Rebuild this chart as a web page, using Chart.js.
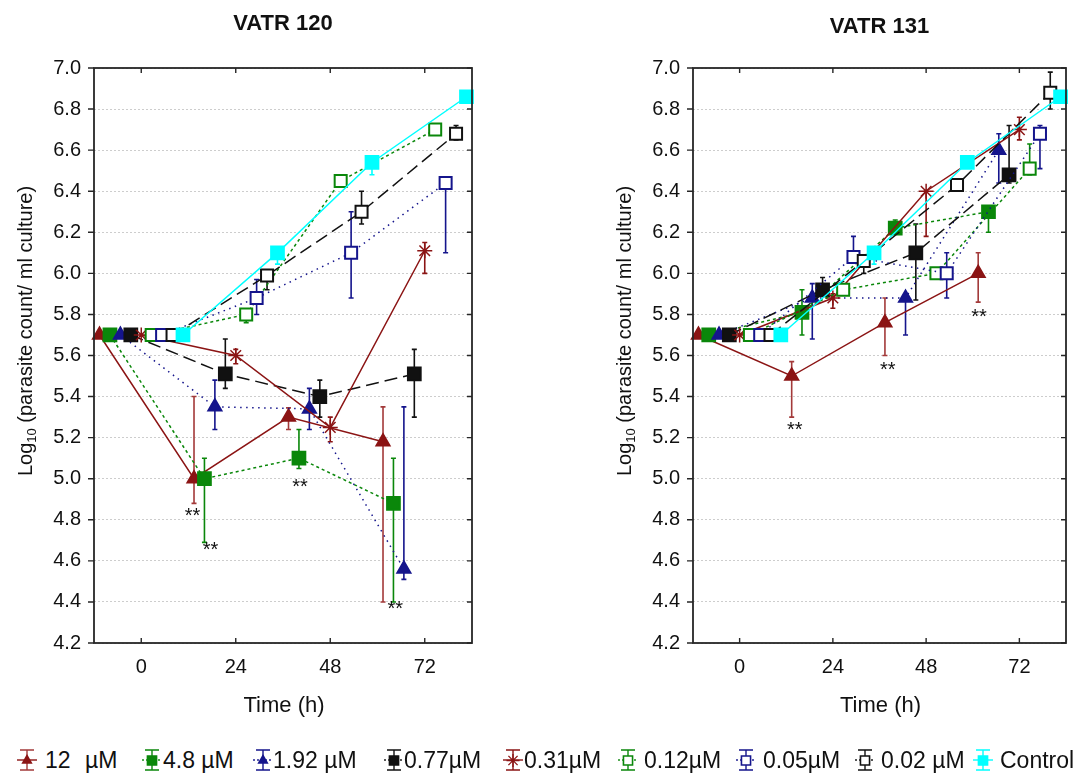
<!DOCTYPE html>
<html>
<head>
<meta charset="utf-8">
<script src="https://cdn.jsdelivr.net/npm/chart.js@4.4.1/dist/chart.umd.min.js"></script>
<style>
  html, body { margin: 0; padding: 0; background: #fff; }
  #wrap { position: relative; width: 1077px; height: 773px; overflow: hidden;
          font-family: "Liberation Sans", Arial, sans-serif; color: #111; }
  canvas.panel { position: absolute; top: 0; }
  .lg-icon { position: absolute; top: 748px; }
  .lg-text { position: absolute; top: 747px; font-size: 23px; line-height: 26px; white-space: nowrap; }
</style>
</head>
<body>
<div id="wrap">
  <canvas id="c120" class="panel" width="540" height="720" style="left:0px"></canvas>
  <canvas id="c131" class="panel" width="537" height="720" style="left:540px"></canvas>
  <div id="legend"></div>
</div>
<script>
// sampling times (h) and axis ticks
var timePoints = [0, 24, 48, 72];
var xTickValues = [0, 24, 48, 72];
var concLabels = ['12  µM', '4.8 µM', '1.92 µM', '0.77µM', '0.31µM', '0.12µM', '0.05µM', '0.02 µM', 'Control'];

// VATR 120 : mean, lower and upper end of the error bar, one row per concentration
var vatr120Mean = [
    [5.70, 5.00, 5.30, 5.18],
    [5.70, 5.00, 5.10, 4.88],
    [5.70, 5.35, 5.34, 4.56],
    [5.70, 5.51, 5.40, 5.51],
    [5.70, 5.60, 5.25, 6.11],
    [5.70, 5.80, 6.45, 6.70],
    [5.70, 5.88, 6.10, 6.44],
    [5.70, 5.99, 6.30, 6.68],
    [5.70, 6.10, 6.54, 6.86]
];
var vatr120Low = [
    [5.70, 4.88, 5.24, 4.40],
    [5.70, 4.69, 5.05, 4.40],
    [5.70, 5.24, 5.24, 4.51],
    [5.70, 5.44, 5.30, 5.30],
    [5.70, 5.56, 5.18, 6.00],
    [5.70, 5.76, 6.43, 6.69],
    [5.70, 5.80, 5.88, 6.10],
    [5.70, 5.92, 6.24, 6.65],
    [5.70, 6.045, 6.48, 6.85]
];
var vatr120High = [
    [5.70, 5.40, 5.345, 5.35],
    [5.70, 5.10, 5.24, 5.10],
    [5.70, 5.48, 5.44, 5.35],
    [5.70, 5.68, 5.48, 5.63],
    [5.70, 5.63, 5.30, 6.15],
    [5.70, 5.80, 6.47, 6.71],
    [5.70, 5.97, 6.30, 6.44],
    [5.70, 6.01, 6.40, 6.72],
    [5.70, 6.10, 6.56, 6.87]
];

// VATR 131
var vatr131Mean = [
    [5.70, 5.50, 5.76, 6.00],
    [5.70, 5.81, 6.22, 6.30],
    [5.70, 5.88, 5.88, 6.60],
    [5.70, 5.92, 6.10, 6.48],
    [5.70, 5.88, 6.40, 6.70],
    [5.70, 5.92, 6.00, 6.51],
    [5.70, 6.08, 6.00, 6.68],
    [5.70, 6.06, 6.43, 6.88],
    [5.70, 6.10, 6.54, 6.86]
];
var vatr131Low = [
    [5.70, 5.30, 5.60, 5.86],
    [5.70, 5.70, 6.20, 6.20],
    [5.70, 5.68, 5.70, 6.44],
    [5.70, 5.90, 5.87, 6.44],
    [5.70, 5.83, 6.18, 6.65],
    [5.70, 5.90, 6.00, 6.48],
    [5.70, 6.05, 5.88, 6.51],
    [5.70, 6.00, 6.42, 6.80],
    [5.70, 6.045, 6.52, 6.85]
];
var vatr131High = [
    [5.70, 5.57, 5.88, 6.10],
    [5.70, 5.92, 6.26, 6.30],
    [5.70, 5.95, 5.88, 6.68],
    [5.70, 5.98, 6.24, 6.72],
    [5.70, 5.90, 6.40, 6.76],
    [5.70, 5.94, 6.00, 6.63],
    [5.70, 6.18, 6.10, 6.72],
    [5.70, 6.08, 6.45, 6.98],
    [5.70, 6.10, 6.56, 6.87]
];

// "**" significance marks, [time (h), log10 value]
var vatr120Stars = [[13.0, 4.848], [17.6, 4.682], [40.3, 4.987], [64.5, 4.394]];
var vatr131Stars = [[14.2, 5.267], [38.1, 5.557], [61.6, 5.815]];

// spread of the series around each time point (h)
var SPREAD = 2.65;

var DARKRED = '#8b1414';
var GREEN = '#0a870a';
var NAVY = '#15158c';
var BLACK = '#111111';
var CYAN = '#00ffff';

var STYLES = [
    {color: DARKRED, bar: '#a33a3a', dash: [], marker: 'triangle', fill: DARKRED, r: 7.5},
    {color: GREEN, bar: GREEN, dash: [3, 3], marker: 'rect', fill: GREEN, r: 9},
    {color: NAVY, bar: NAVY, dash: [1.5, 4.5], marker: 'triangle', fill: NAVY, r: 7.5},
    {color: BLACK, bar: BLACK, dash: [13, 6], marker: 'rect', fill: BLACK, r: 9},
    {color: DARKRED, bar: DARKRED, dash: [], marker: 'star', fill: DARKRED, r: 7.5},
    {color: GREEN, bar: GREEN, dash: [3, 3], marker: 'rect', fill: '#ffffff', r: 8.5},
    {color: NAVY, bar: NAVY, dash: [1.5, 4.5], marker: 'rect', fill: '#ffffff', r: 8.5},
    {color: BLACK, bar: BLACK, dash: [13, 6], marker: 'rect', fill: '#ffffff', r: 8.5},
    {color: CYAN, bar: CYAN, dash: [], marker: 'rect', fill: CYAN, r: 9}
];

var FONT = "'Liberation Sans', Arial, sans-serif";

// error bars under the markers
var errorBarPlugin = {
    id: 'errorBars',
    beforeDatasetsDraw: function (chart) {
        var ctx = chart.ctx;
        var ys = chart.scales.y;
        chart.data.datasets.forEach(function (ds, i) {
            var meta = chart.getDatasetMeta(i);
            ctx.save();
            ctx.strokeStyle = ds.barColor;
            ctx.lineWidth = 1.6;
            meta.data.forEach(function (pt, j) {
                var lo = ds.errLo[j], hi = ds.errHi[j];
                if (lo === hi) return;
                var yl = ys.getPixelForValue(lo), yh = ys.getPixelForValue(hi);
                ctx.beginPath();
                ctx.moveTo(pt.x, yl); ctx.lineTo(pt.x, yh);
                ctx.moveTo(pt.x - 2.5, yl); ctx.lineTo(pt.x + 2.5, yl);
                ctx.moveTo(pt.x - 2.5, yh); ctx.lineTo(pt.x + 2.5, yh);
                ctx.stroke();
            });
            ctx.restore();
        });
    }
};

// frame, ticks, titles and significance marks
var decorPlugin = {
    id: 'decor',
    afterDraw: function (chart, args, opts) {
        var ctx = chart.ctx;
        var a = chart.chartArea;
        var xs = chart.scales.x, ys = chart.scales.y;
        ctx.save();
        ctx.strokeStyle = '#262626';
        ctx.lineWidth = 1.8;
        ctx.strokeRect(a.left, a.top, a.right - a.left, a.bottom - a.top);
        ctx.lineWidth = 1.4;
        ctx.beginPath();
        xTickValues.forEach(function (v) {
            var px = xs.getPixelForValue(v);
            ctx.moveTo(px, a.bottom); ctx.lineTo(px, a.bottom - 5);
            ctx.moveTo(px, a.top); ctx.lineTo(px, a.top + 5);
        });
        ys.ticks.forEach(function (t) {
            var py = ys.getPixelForValue(t.value);
            ctx.moveTo(a.left, py); ctx.lineTo(a.left - 6, py);
            ctx.moveTo(a.right, py); ctx.lineTo(a.right - 5, py);
        });
        ctx.stroke();

        var cx = (a.left + a.right) / 2;
        ctx.fillStyle = '#111';
        ctx.textAlign = 'center';
        ctx.textBaseline = 'middle';
        ctx.font = 'bold 22px ' + FONT;
        ctx.fillText(opts.title, cx, opts.titleY);
        ctx.font = '22px ' + FONT;
        ctx.fillText('Time (h)', cx + 1, 706);

        // rotated y title with subscript
        ctx.save();
        ctx.translate(opts.yTitleX, 331);
        ctx.rotate(-Math.PI / 2);
        var big = '20px ' + FONT, small = '13px ' + FONT;
        var p1 = 'Log', p2 = '10', p3 = ' (parasite count/ ml culture)';
        ctx.font = big; var w1 = ctx.measureText(p1).width, w3 = ctx.measureText(p3).width;
        ctx.font = small; var w2 = ctx.measureText(p2).width;
        var x0 = -(w1 + w2 + w3) / 2;
        ctx.textAlign = 'left';
        ctx.textBaseline = 'alphabetic';
        ctx.font = big; ctx.fillText(p1, x0, 7);
        ctx.font = small; ctx.fillText(p2, x0 + w1, 11);
        ctx.font = big; ctx.fillText(p3, x0 + w1 + w2, 7);
        ctx.restore();

        ctx.font = '20px ' + FONT;
        ctx.textAlign = 'center';
        ctx.textBaseline = 'alphabetic';
        opts.stars.forEach(function (s) {
            ctx.fillText('**', xs.getPixelForValue(s[0]), ys.getPixelForValue(s[1]) + 12);
        });
        ctx.restore();
    }
};

function buildDatasets(means, lows, highs) {
    return concLabels.map(function (label, i) {
        var st = STYLES[i];
        return {
            label: label,
            data: timePoints.map(function (t, j) {
                return {x: t + (i - 4) * SPREAD, y: means[i][j]};
            }),
            errLo: lows[i],
            errHi: highs[i],
            barColor: st.bar,
            borderColor: st.color,
            borderWidth: 1.5,
            borderDash: st.dash,
            pointStyle: st.marker,
            pointRadius: st.r,
            pointBackgroundColor: st.fill,
            pointBorderColor: st.color,
            pointBorderWidth: st.marker === 'star' ? 1.5 : 2,
            fill: false,
            tension: 0,
            order: 8 - i,
            clip: 10
        };
    });
}

function makePanel(id, means, lows, highs, opts) {
    var ctx = document.getElementById(id).getContext('2d');
    return new Chart(ctx, {
        type: 'line',
        data: {datasets: buildDatasets(means, lows, highs)},
        options: {
            responsive: false,
            animation: false,
            devicePixelRatio: 1,
            layout: {padding: {top: 68, right: opts.padRight, left: 0, bottom: 0}},
            plugins: {
                legend: {display: false},
                tooltip: {enabled: false},
                decor: {title: opts.title, titleY: opts.titleY, yTitleX: opts.yTitleX, stars: opts.stars}
            },
            scales: {
                x: {
                    type: 'linear',
                    min: -12,
                    max: 84,
                    afterBuildTicks: function (scale) {
                        scale.ticks = xTickValues.map(function (v) { return {value: v}; });
                    },
                    afterFit: function (scale) { scale.height = 77; },
                    grid: {display: false, drawTicks: false},
                    border: {display: false},
                    ticks: {
                        padding: 12,
                        color: '#111',
                        font: {family: FONT, size: 20},
                        maxRotation: 0,
                        callback: function (v) { return v; }
                    }
                },
                y: {
                    min: 4.2,
                    max: 7.0,
                    afterFit: function (scale) { scale.width = opts.yWidth; },
                    grid: {color: '#cdcdcd', lineWidth: 1, drawTicks: false},
                    border: {display: false, dash: [2, 2]},
                    ticks: {
                        stepSize: 0.2,
                        padding: 13,
                        color: '#111',
                        font: {family: FONT, size: 20},
                        callback: function (v) { return Number(v).toFixed(1); }
                    }
                }
            }
        },
        plugins: [errorBarPlugin, decorPlugin]
    });
}

makePanel('c120', vatr120Mean, vatr120Low, vatr120High,
    {title: 'VATR 120', titleY: 24, yTitleX: 25, yWidth: 94, padRight: 68, stars: vatr120Stars});
makePanel('c131', vatr131Mean, vatr131Low, vatr131High,
    {title: 'VATR 131', titleY: 27, yTitleX: 84, yWidth: 153, padRight: 6, stars: vatr131Stars});

// legend below both panels
var legendIcon = [27, 152, 263, 394, 513, 628, 746, 865, 983];
var legendText = [45, 163, 273, 404, 524, 644, 763, 881, 1000];

function drawMarker(c, st, x, y, s) {
    c.beginPath();
    if (st.marker === 'triangle') {
        c.moveTo(x, y - s); c.lineTo(x + s * 0.87, y + s * 0.5); c.lineTo(x - s * 0.87, y + s * 0.5); c.closePath();
        c.fillStyle = st.fill; c.fill();
    } else if (st.marker === 'rect') {
        c.rect(x - s * 0.7, y - s * 0.7, s * 1.4, s * 1.4);
        c.fillStyle = st.fill; c.fill();
        c.lineWidth = 1.6; c.strokeStyle = st.color; c.stroke();
    } else {
        for (var k = 0; k < 4; k++) {
            var ang = k * Math.PI / 4;
            c.moveTo(x - Math.cos(ang) * s, y - Math.sin(ang) * s);
            c.lineTo(x + Math.cos(ang) * s, y + Math.sin(ang) * s);
        }
        c.lineWidth = 1.3; c.strokeStyle = st.color; c.stroke();
    }
}

var legendBox = document.getElementById('legend');
concLabels.forEach(function (label, i) {
    var st = STYLES[i];
    var cv = document.createElement('canvas');
    cv.width = 22; cv.height = 24;
    cv.className = 'lg-icon';
    cv.style.left = (legendIcon[i] - 11) + 'px';
    legendBox.appendChild(cv);
    var c = cv.getContext('2d');
    c.strokeStyle = st.bar; c.lineWidth = 1.4;
    c.beginPath();
    c.moveTo(11, 2); c.lineTo(11, 22);
    c.moveTo(4, 2); c.lineTo(18, 2);
    c.moveTo(4, 22); c.lineTo(18, 22);
    c.stroke();
    c.setLineDash(st.dash.length ? [2, 2] : []);
    c.strokeStyle = st.color;
    c.beginPath(); c.moveTo(1, 12); c.lineTo(21, 12); c.stroke();
    c.setLineDash([]);
    drawMarker(c, st, 11, 12.5, 6.5);

    if (i === 0) {
        var a = document.createElement('span');
        a.className = 'lg-text'; a.style.left = legendText[i] + 'px'; a.textContent = '12';
        var b = document.createElement('span');
        b.className = 'lg-text'; b.style.left = '85px'; b.textContent = 'µM';
        legendBox.appendChild(a); legendBox.appendChild(b);
    } else {
        var t = document.createElement('span');
        t.className = 'lg-text'; t.style.left = legendText[i] + 'px'; t.textContent = label;
        legendBox.appendChild(t);
    }
});
</script>
</body>
</html>
